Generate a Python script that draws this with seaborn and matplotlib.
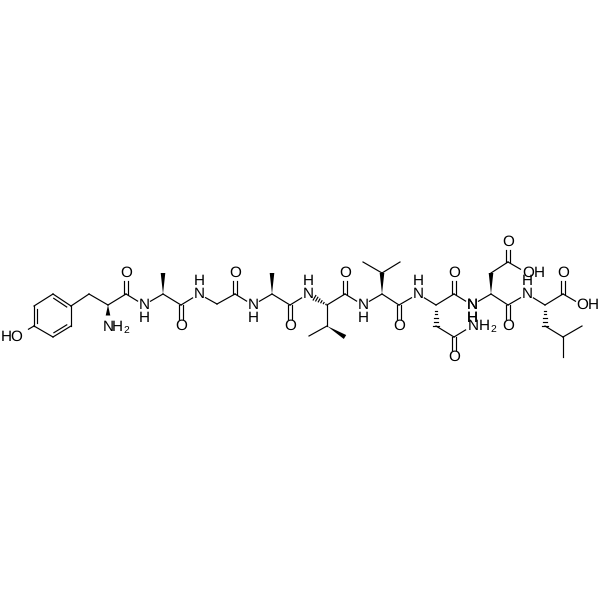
import numpy as np
import pandas as pd
import matplotlib
matplotlib.use('Agg')
import matplotlib.pyplot as plt
import seaborn as sns

# atom positions (pixels, y going down)
atoms = ['o_tyr', 'c1', 'c2', 'c3', 'c4', 'c5', 'c6', 'cb1', 'ca1', 'n1', 'c_1', 'o_1',
         'n2', 'ca2', 'me2', 'c_2', 'o_2',
         'n3', 'ca3', 'c_3', 'o_3',
         'n4', 'ca4', 'me4', 'c_4', 'o_4',
         'n5', 'ca5', 'cb5', 'cg5a', 'cg5b', 'c_5', 'o_5',
         'n6', 'ca6', 'cb6', 'cg6a', 'cg6b', 'c_6', 'o_6',
         'n7', 'ca7', 'cb7', 'cg7', 'od7', 'nd7', 'c_7', 'o_7',
         'n8', 'ca8', 'cb8', 'cg8', 'od8', 'oh8', 'c_8', 'o_8',
         'n9', 'ca9', 'cb9', 'cg9', 'me9a', 'me9b', 'c_9', 'o_9', 'oh9']
atom_x = [22, 34, 34, 53, 71, 71, 53, 89, 108, 108, 126, 126,
          144, 163, 163, 181, 181,
          199, 217, 235, 235,
          253, 272, 272, 290, 290,
          308, 327, 327, 309, 345, 345, 345,
          363, 382, 382, 363, 400, 399, 399,
          418, 436, 436, 454, 454, 472, 454, 454,
          472, 491, 491, 508, 508, 527, 508, 508,
          527, 545, 545, 563, 582, 563, 563, 563, 582]
atom_y = [333, 326, 306, 294, 306, 326, 337, 294, 305, 323, 294, 273,
          305, 294, 273, 305, 326,
          294, 304, 294, 273,
          305, 294, 273, 305, 326,
          294, 305, 326, 336, 337, 294, 273,
          305, 294, 273, 262, 262, 305, 326,
          294, 305, 326, 337, 357, 326, 294, 273,
          305, 294, 273, 262, 242, 273, 305, 326,
          294, 305, 326, 337, 326, 357, 294, 273, 305]

single_bonds = [('o_tyr', 'c1'), ('c2', 'c3'), ('c4', 'c5'), ('c6', 'c1'), ('c4', 'cb1'), ('cb1', 'ca1'),
                ('ca1', 'c_1'), ('c_1', 'n2'), ('n2', 'ca2'), ('ca2', 'c_2'), ('c_2', 'n3'),
                ('n3', 'ca3'), ('ca3', 'c_3'), ('c_3', 'n4'), ('n4', 'ca4'), ('ca4', 'c_4'), ('c_4', 'n5'),
                ('ca5', 'cb5'), ('cb5', 'cg5a'), ('ca5', 'c_5'), ('c_5', 'n6'), ('n6', 'ca6'),
                ('cb6', 'cg6a'), ('cb6', 'cg6b'), ('ca6', 'c_6'), ('c_6', 'n7'), ('n7', 'ca7'),
                ('cb7', 'cg7'), ('cg7', 'nd7'), ('ca7', 'c_7'), ('c_7', 'n8'), ('n8', 'ca8'),
                ('cb8', 'cg8'), ('cg8', 'oh8'), ('ca8', 'c_8'), ('c_8', 'n9'), ('n9', 'ca9'),
                ('cb9', 'cg9'), ('cg9', 'me9a'), ('cg9', 'me9b'), ('ca9', 'c_9'), ('c_9', 'oh9')]
double_bonds = [('c_1', 'o_1'), ('c_2', 'o_2'), ('c_3', 'o_3'), ('c_4', 'o_4'), ('c_5', 'o_5'),
                ('c_6', 'o_6'), ('cg7', 'od7'), ('c_7', 'o_7'), ('cg8', 'od8'), ('c_8', 'o_8'), ('c_9', 'o_9')]
ring_bonds = [('c1', 'c2'), ('c3', 'c4'), ('c5', 'c6')]
wedge_bonds = [('ca1', 'n1'), ('ca2', 'me2'), ('ca4', 'me4'), ('cb5', 'cg5b'), ('ca6', 'cb6'), ('ca8', 'cb8')]
hash_bonds = [('ca5', 'n5'), ('ca7', 'cb7'), ('ca9', 'cb9')]

label_text = ['H', 'O', 'N', 'H', '2', 'O', 'N', 'H', 'O', 'N', 'H', 'O', 'N', 'H', 'O', 'N', 'H', 'O',
              'N', 'H', 'O', 'N', 'H', 'O', 'N', 'H', 'O', 'N', 'H', '2', 'N', 'H', 'O', 'O', 'H', 'O',
              'N', 'H', 'O', 'O', 'H']
label_x = [6, 16, 108, 117, 126, 126, 144, 144, 181, 199, 199, 235, 253, 253, 290, 308, 308, 345,
           363, 363, 399, 418, 418, 454, 472, 472, 454, 473, 484, 493, 472, 472, 508, 528, 539, 508,
           527, 527, 563, 582, 593]
label_y = [337, 337, 327, 327, 330, 273, 305, 318, 326, 294, 281, 273, 305, 318, 326, 294, 281, 273,
           305, 318, 326, 294, 281, 273, 305, 318, 357, 326, 326, 329, 305, 318, 326, 273, 273, 242,
           294, 281, 273, 305, 305]

pos = {name: np.array([x, y], dtype=float) for name, x, y in zip(atoms, atom_x, atom_y)}
labelled = {'o_tyr', 'n1', 'n2', 'n3', 'n4', 'n5', 'n6', 'n7', 'n8', 'n9', 'oh8', 'oh9', 'nd7', 'od7', 'od8'}
labelled |= {'o_%d' % i for i in range(1, 10)}


def trimmed(a, b):
    p, q = pos[a].copy(), pos[b].copy()
    u = (q - p) / np.linalg.norm(q - p)
    if a in labelled:
        p = p + u * 7.5
    if b in labelled:
        q = q - u * 7.5
    return p, q


rows = []


def add_line(p, q):
    n = len(rows) // 2
    rows.append({'x': p[0], 'y': p[1], 'bond': n})
    rows.append({'x': q[0], 'y': q[1], 'bond': n})


for a, b in single_bonds:
    add_line(*trimmed(a, b))

for a, b in double_bonds:
    p, q = trimmed(a, b)
    u = (q - p) / np.linalg.norm(q - p)
    side = np.array([u[1], -u[0]]) * 1.6
    add_line(p + side, q + side)
    add_line(p - side, q - side)

ring_mid = np.array([52.5, 316.0])
for a, b in ring_bonds:
    p, q = trimmed(a, b)
    add_line(p, q)
    u = (q - p) / np.linalg.norm(q - p)
    side = np.array([u[1], -u[0]])
    if np.dot(side, ring_mid - p) < 0:
        side = -side
    add_line(p + side * 3.2 + u * 3, q + side * 3.2 - u * 3)

for a, b in hash_bonds:
    p, q = trimmed(a, b)
    u = (q - p) / np.linalg.norm(q - p)
    side = np.array([u[1], -u[0]])
    for t in np.linspace(0.08, 1.0, 6):
        c = p + (q - p) * t
        add_line(c + side * 2.6 * t, c - side * 2.6 * t)

bonds = pd.DataFrame(rows)

plt.rcParams['text.hinting'] = 'none'
fig = plt.figure(figsize=(6, 6), dpi=100)
ax = fig.add_axes([0, 0, 1, 1])
sns.lineplot(data=bonds, x='x', y='y', units='bond', estimator=None, sort=False,
             color='black', linewidth=0.85, legend=False, ax=ax)

for a, b in wedge_bonds:
    p, q = trimmed(a, b)
    u = (q - p) / np.linalg.norm(q - p)
    side = np.array([u[1], -u[0]]) * 2.3
    tri = np.array([p, q + side, q - side])
    ax.fill(tri[:, 0], tri[:, 1], color='black', linewidth=0)

for s, x, y in zip(label_text, label_x, label_y):
    ax.text(x, y, s, ha='center', va='center', family='Liberation Sans',
            fontsize=7.5 if s == '2' else 11, color='black')

ax.set_xlim(0, 600)
ax.set_ylim(600, 0)
ax.axis('off')
fig.savefig('out.png', dpi=100, facecolor='white')
